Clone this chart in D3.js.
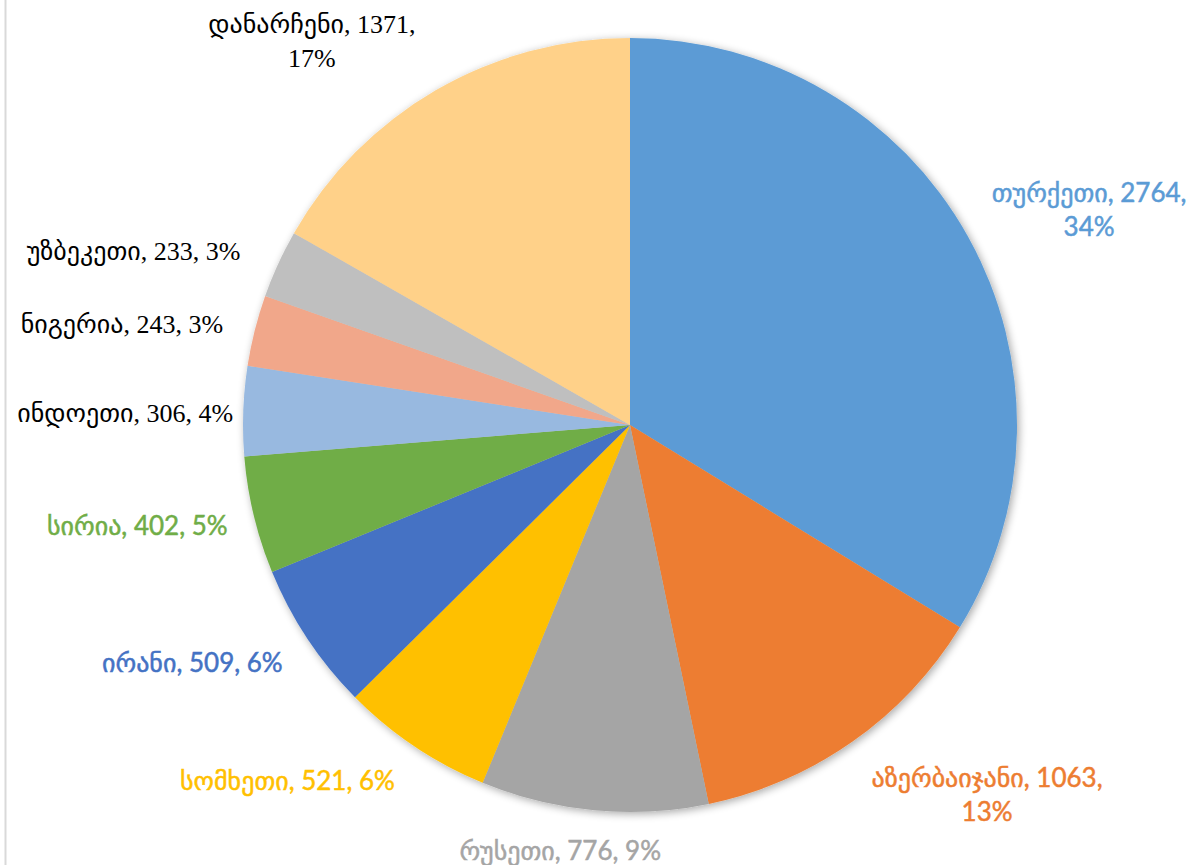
<!DOCTYPE html>
<html>
<head>
<meta charset="utf-8">
<script src="https://cdn.jsdelivr.net/npm/d3@7"></script>
<style>
  html, body { margin: 0; padding: 0; background: #fff; }
  svg { display: block; }
</style>
</head>
<body>
<svg id="chart" width="1190" height="865"></svg>
<script>
// ---- data ----
const categories = ["თურქეთი", "აზერბაიჯანი", "რუსეთი", "სომხეთი", "ირანი", "სირია", "ინდოეთი", "ნიგერია", "უზბეკეთი", "დანარჩენი"];
const values = [2764, 1063, 776, 521, 509, 402, 306, 243, 233, 1371];
const percentLabels = ["34%", "13%", "9%", "6%", "6%", "5%", "4%", "3%", "3%", "17%"];

// ---- layout / style ----
const sliceColors = ["#5B9BD5", "#ED7D31", "#A5A5A5", "#FFC000", "#4472C4", "#70AD47", "#98B9E0", "#F1A78A", "#BFBFBF", "#FFD189"];
const labelColors = ["#5B9BD5", "#ED7D31", "#A5A5A5", "#FFC000", "#4472C4", "#70AD47", "#000", "#000", "#000", "#000"];
const coloredLabel = [true, true, true, true, true, true, false, false, false, false];
// label placement: [angle in degrees clockwise from top, distance from centre in px]
const labelPolar = [[64.9, 507], [136.0, 514], [189.3, 432], [223.9, 494], [241.5, 498], [258.4, 503], [271.4, 505], [281.2, 518], [289.3, 526], [320.4, 499]];
const labelLines = [2, 2, 1, 1, 1, 1, 1, 1, 1, 2];

const cx = 630, cy = 425, R = 387;
const svg = d3.select("#chart");

// left border line
svg.append("line").attr("x1", 5.5).attr("x2", 5.5).attr("y1", 0).attr("y2", 865)
  .attr("stroke", "#d9d9d9").attr("stroke-width", 2);

const defs = svg.append("defs");
const f = defs.append("filter").attr("id", "shadow").attr("x", "-10%").attr("y", "-10%").attr("width", "120%").attr("height", "120%");
f.append("feGaussianBlur").attr("in", "SourceAlpha").attr("stdDeviation", 4);
f.append("feOffset").attr("dx", 2).attr("dy", 2).attr("result", "b");
f.append("feComponentTransfer").append("feFuncA").attr("type", "linear").attr("slope", 0.35);
const m = f.append("feMerge");
m.append("feMergeNode");
m.append("feMergeNode").attr("in", "SourceGraphic");

const pie = d3.pie().sort(null).value(d => d)(values);
const arc = d3.arc().innerRadius(0).outerRadius(R);

const g = svg.append("g").attr("transform", `translate(${cx},${cy})`);
const slices = g.append("g").attr("filter", "url(#shadow)");
slices.selectAll("path").data(pie).join("path")
  .attr("d", arc)
  .attr("fill", (d, i) => sliceColors[i]);

const lbl = g.append("g");
pie.forEach((d, i) => {
  const a = labelPolar[i][0] * Math.PI / 180, dist = labelPolar[i][1];
  const x = dist * Math.sin(a), y = -dist * Math.cos(a);
  const t = lbl.append("text")
    .attr("text-anchor", "middle")
    .attr("fill", labelColors[i])
    .attr("stroke", coloredLabel[i] ? labelColors[i] : "none")
    .attr("stroke-width", coloredLabel[i] ? 0.5 : 0)
    .style("font-family", coloredLabel[i] ? "Lato, 'DejaVu Sans', sans-serif" : "'Liberation Serif', 'DejaVu Sans', serif")
    .style("font-weight", "400")
    .style("font-size", "26px");
  const full = `${categories[i]}, ${values[i]}, ${percentLabels[i]}`;
  if (labelLines[i] === 2) {
    t.append("tspan").attr("x", x).attr("y", y - 17 + 9).text(`${categories[i]}, ${values[i]},`);
    t.append("tspan").attr("x", x).attr("y", y + 17 + 9).text(percentLabels[i]);
  } else {
    t.append("tspan").attr("x", x).attr("y", y + 9).text(full);
  }
});
</script>
</body>
</html>
